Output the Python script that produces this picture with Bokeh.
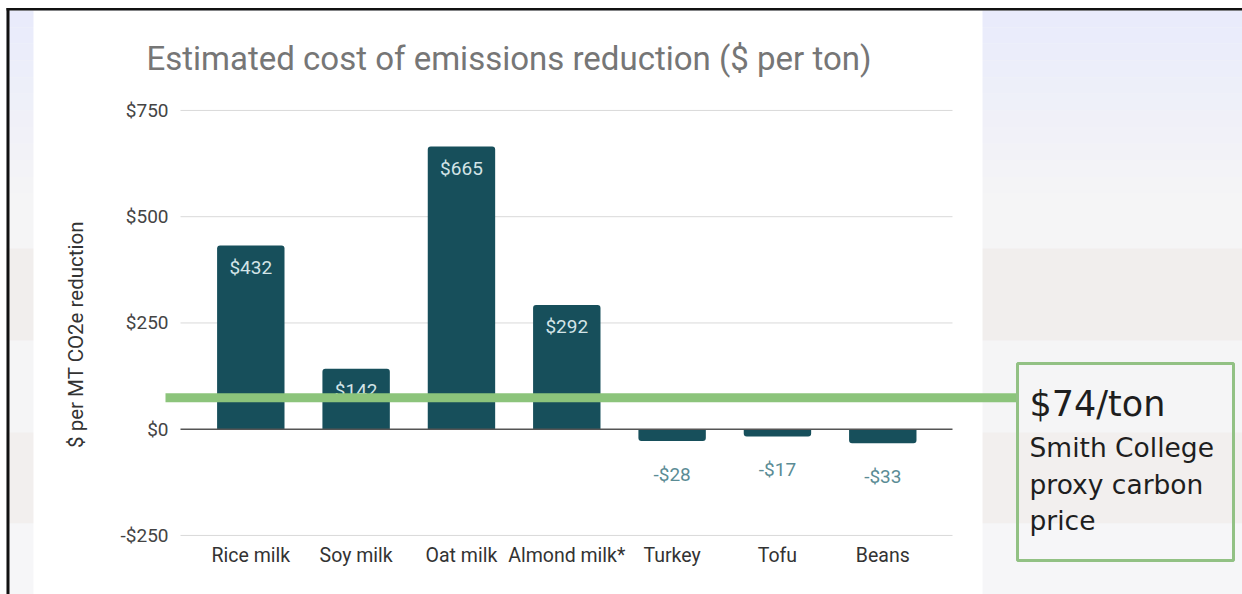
import numpy as np
from bokeh.plotting import figure
from bokeh.models import ColumnDataSource, LinearAxis, FixedTicker, Range1d, CDSView, BooleanFilter, Grid
from bokeh.core.properties import value
from bokeh.embed import file_html
from bokeh.resources import INLINE

# ---- chart data ----
categories = ["Rice milk", "Soy milk", "Oat milk", "Almond milk*", "Turkey", "Tofu", "Beans"]
costs = [432, 142, 665, 292, -28, -17, -33]
y_ticks = [-250, 0, 250, 500, 750]
y_tick_labels = ["-$250", "$0", "$250", "$500", "$750"]
carbon_price = 74
carbon_price_note = ["Smith College", "proxy carbon", "price"]
title_text = "Estimated cost of emissions reduction ($ per ton)"
y_title = "$ per MT CO2e reduction"

# ---- canvas geometry ----
W, H = 1242, 594
X_FIRST_PX, X_STEP_PX = 250.3, 105.33   # centre of the first category, category spacing
Y_ZERO_PX, Y_PX_PER_UNIT = 428.7, 0.425  # pixel row of $0, pixels per dollar


def xd(px):
    return (px - X_FIRST_PX) / X_STEP_PX


def yd(py):
    return (Y_ZERO_PX - py) / Y_PX_PER_UNIT


def fmt_money(v):
    return f"-${abs(v)}" if v < 0 else f"${v}"


p = figure(width=W, height=H,
           x_range=Range1d(xd(0), xd(W)), y_range=Range1d(yd(H), yd(0)),
           x_axis_location=None, y_axis_location=None,
           toolbar_location=None, min_border=0, title=None,
           output_backend="svg", outline_line_color=None,
           background_fill_color="white", border_fill_color="white")
for r in p.center:
    if isinstance(r, Grid):
        r.visible = False

# ---- slide background ----
p.quad(left=xd(6), right=xd(W), top=yd(7.5), bottom=yd(H), color="#f5f5f6", line_color=None)
top_c = np.array([233, 235, 251])
bot_c = np.array([245, 245, 246])
n_strips = 12
edges = np.linspace(10, 210, n_strips + 1)
for i in range(n_strips):
    c = top_c + (bot_c - top_c) * (i / (n_strips - 1))
    p.quad(left=xd(6), right=xd(W), top=yd(edges[i]), bottom=yd(edges[i + 1]),
           color="#%02x%02x%02x" % tuple(int(round(v)) for v in c), line_color=None)
for (t, b, col) in [(248, 340, "#f1eeed"), (432, 523, "#f2efee"), (523, H, "#f6f6f8")]:
    p.quad(left=xd(6), right=xd(W), top=yd(t), bottom=yd(b), color=col, line_color=None)

# white chart panel
p.quad(left=xd(33), right=xd(982), top=yd(10), bottom=yd(H), color="#ffffff", line_color=None)

# black frame edges
p.quad(left=xd(6), right=xd(W), top=yd(7.5), bottom=yd(10), color="#111111", line_color=None)
p.quad(left=xd(6), right=xd(9), top=yd(7.5), bottom=yd(H), color="#111111", line_color=None)

# ---- grid ----
grid_left, grid_right = xd(180), xd(952)
grid_vals = [t for t in y_ticks if t != 0]
p.segment(x0=[grid_left] * len(grid_vals), x1=[grid_right] * len(grid_vals),
          y0=grid_vals, y1=grid_vals, line_color="#d9d9d9", line_width=1)

# ---- bars ----
src = ColumnDataSource(dict(
    x=list(range(len(categories))),
    top=costs,
    label=[fmt_money(v) for v in costs],
    label_color=["#d3e4e7" if v > 0 else "#5b8c95" for v in costs],
    label_offset=[21.5 if v > 0 else 33 for v in costs],
))
pos_view = CDSView(filter=BooleanFilter([v > 0 for v in costs]))
neg_view = CDSView(filter=BooleanFilter([v <= 0 for v in costs]))
p.vbar(x="x", top="top", bottom=0, width=0.64, source=src, view=pos_view,
       fill_color="#174f5b", line_color=None, border_radius=(3, 3, 0, 0))
p.vbar(x="x", top="top", bottom=0, width=0.64, source=src, view=neg_view,
       fill_color="#174f5b", line_color=None, border_radius=(0, 0, 3, 3))

# zero baseline
p.segment(x0=[grid_left], x1=[grid_right], y0=[0], y1=[0], line_color="#555555", line_width=1.5)

# value labels
p.text(x="x", y="top", text="label", source=src, y_offset="label_offset",
       text_align="center", text_baseline="middle", text_color="label_color",
       text_font=value("Roboto"), text_font_size="19px")

# ---- carbon price line and callout ----
p.segment(x0=[xd(165)], x1=[xd(1017)], y0=[carbon_price], y1=[carbon_price],
          line_color="#8cc47b", line_width=9, line_cap="butt")
p.quad(left=xd(1017), right=xd(1233), top=yd(363), bottom=yd(560),
       fill_color=None, line_color="#92c184", line_width=3)
p.text(x=[xd(1029)], y=[yd(403)], text=[f"${carbon_price}/ton"],
       text_font=value("DejaVu Sans"), text_font_size="35px",
       text_baseline="alphabetic", text_color="#1e1e1e")
p.text(x=[xd(1029)] * 3, y=[yd(447), yd(484), yd(520)], text=carbon_price_note,
       text_font=value("DejaVu Sans"), text_font_size="26.5px",
       text_baseline="alphabetic", text_color="#1e1e1e")

# ---- titles ----
p.text(x=[xd(146)], y=[yd(58)], text=[title_text], text_font=value("Roboto"),
       text_font_size="33px", text_baseline="alphabetic", text_color="#767676")
p.text(x=[xd(75.5)], y=[yd(334)], text=[y_title], angle=np.pi / 2,
       text_align="center", text_baseline="middle", text_font=value("Roboto"),
       text_font_size="20.5px", text_color="#333333")

# ---- axes ----
yaxis = LinearAxis(fixed_location=grid_left, ticker=FixedTicker(ticks=y_ticks),
                   major_label_overrides=dict(zip(y_ticks, y_tick_labels)),
                   axis_line_color=None, major_tick_line_color=None,
                   minor_tick_line_color=None, major_tick_in=0, major_tick_out=0,
                   minor_tick_in=0, minor_tick_out=0, major_label_standoff=12,
                   major_label_text_font="Roboto", major_label_text_font_size="19px",
                   major_label_text_color="#444444")
p.add_layout(yaxis, "left")

xaxis = LinearAxis(fixed_location=y_ticks[0], ticker=FixedTicker(ticks=list(range(len(categories)))),
                   major_label_overrides=dict(zip(range(len(categories)), categories)),
                   axis_line_color=None, major_tick_line_color=None,
                   minor_tick_line_color=None, major_tick_in=0, major_tick_out=0,
                   minor_tick_in=0, minor_tick_out=0, major_label_standoff=9,
                   major_label_text_font="Roboto", major_label_text_font_size="19.5px",
                   major_label_text_color="#333333")
p.add_layout(xaxis, "below")

open("out.html", "w").write(file_html(p, INLINE))
